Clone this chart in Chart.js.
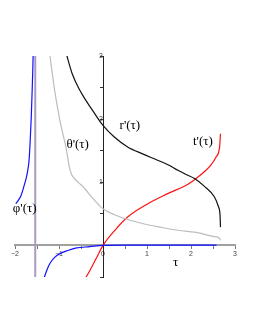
<!DOCTYPE html>
<html>
<head>
<meta charset="utf-8">
<script src="https://cdn.jsdelivr.net/npm/chart.js@4.4.1/dist/chart.umd.min.js"></script>
<style>
  body { margin: 0; background: #fff; }
  #wrap { width: 255px; height: 330px; position: relative; }
</style>
</head>
<body>
<div id="wrap"><canvas id="plot"></canvas></div>
<script>
// phi'(tau), left and right branches
var phiLeftTau = [-1.98, -1.93, -1.87, -1.82, -1.78, -1.74, -1.71, -1.68, -1.655, -1.63, -1.61, -1.595, -1.585];
var phiLeftVal = [0.66, 0.71, 0.78, 0.88, 0.98, 1.08, 1.19, 1.35, 1.65, 2.04, 2.45, 2.8, 3.1];
var phiRightTau = [-1.36, -1.33, -1.27, -1.21, -1.10, -0.98, -0.80, -0.60, -0.30, 0, 0.5, 1.0, 1.5, 2.0, 2.58];
var phiRightVal = [-0.58, -0.5, -0.38, -0.29, -0.19, -0.13, -0.08, -0.04, -0.02, 0, 0.004, 0.004, 0.004, 0.004, 0.004];

// r'(tau)
var rTau = [-0.84, -0.70, -0.53, -0.40, -0.23, 0, 0.25, 0.56, 0.9, 1.24, 1.5, 1.70, 1.9, 2.08, 2.3, 2.53, 2.62, 2.66, 2.67];
var rVal = [3.05, 2.72, 2.46, 2.31, 2.13, 1.90, 1.72, 1.56, 1.45, 1.35, 1.27, 1.19, 1.12, 1.06, 0.94, 0.77, 0.62, 0.48, 0.29];

// theta'(tau)
var thetaTau = [-1.22, -1.10, -0.98, -0.83, -0.78, -0.75, -0.71, -0.65, -0.55, -0.45, -0.38, -0.2, 0, 0.25, 0.56, 0.94, 1.3, 1.70, 2.2, 2.45, 2.55, 2.61, 2.65, 2.67];
var thetaVal = [3.08, 2.46, 1.98, 1.51, 1.30, 1.20, 1.12, 1.06, 0.99, 0.93, 0.87, 0.72, 0.58, 0.49, 0.41, 0.34, 0.29, 0.24, 0.195, 0.15, 0.14, 0.13, 0.11, 0.08];

// t'(tau)
var tTau = [-0.40, -0.30, -0.15, 0, 0.27, 0.56, 1.02, 1.47, 1.93, 2.08, 2.34, 2.45, 2.57, 2.65, 2.67];
var tVal = [-0.52, -0.40, -0.20, 0, 0.24, 0.45, 0.66, 0.82, 0.97, 1.04, 1.19, 1.27, 1.40, 1.56, 1.77];

// asymptote
var asymTau = [-1.54, -1.54];
var asymVal = [-0.5, 3];

function pts(xs, ys) {
    return xs.map(function (x, i) { return {x: x, y: ys[i]}; });
}

function line(data, color, w) {
    return {
        data: data,
        showLine: true,
        borderColor: color,
        borderWidth: w,
        pointRadius: 0,
        cubicInterpolationMode: 'monotone',
        fill: false
    };
}

// curve names written at data positions
var curveLabels = [
    {text: "r'(\u03c4)", x: 0.61, y: 1.90},
    {text: "\u03b8'(\u03c4)", x: -0.575, y: 1.60},
    {text: "\u03c6'(\u03c4)", x: -1.78, y: 0.59},
    {text: "t'(\u03c4)", x: 2.27, y: 1.65},
    {text: "\u03c4", x: 1.65, y: -0.27}
];

var labelPlugin = {
    id: 'curveLabels',
    afterDatasetsDraw: function (chart) {
        var ctx = chart.ctx;
        var sx = chart.scales.x, sy = chart.scales.y;
        ctx.save();
        ctx.fillStyle = '#000';
        ctx.font = '13px "Liberation Serif"';
        ctx.textAlign = 'center';
        ctx.textBaseline = 'middle';
        curveLabels.forEach(function (l) {
            ctx.fillText(l.text, sx.getPixelForValue(l.x), sy.getPixelForValue(l.y));
        });
        ctx.restore();
    }
};

function tickText(v) {
    if (Math.abs(v - Math.round(v)) > 1e-6) return '';
    return v < 0 ? '\u2212' + Math.abs(v) : String(v);
}

new Chart(document.getElementById('plot'), {
    type: 'scatter',
    data: {
        datasets: [
            line(pts(asymTau, asymVal), '#a99ac6', 2),
            line(pts(thetaTau, thetaVal), '#bdbdbd', 1.2),
            line(pts(phiLeftTau, phiLeftVal), '#1010ff', 1.2),
            line(pts(phiRightTau, phiRightVal), '#1010ff', 1.2),
            line(pts(rTau, rVal), '#111111', 1.2),
            line(pts(tTau, tVal), '#ff1010', 1.2)
        ]
    },
    options: {
        maintainAspectRatio: false,
        animation: false,
        layout: {padding: {left: 15, right: 20, top: 56, bottom: 53}},
        plugins: {legend: {display: false}, tooltip: {enabled: false}},
        scales: {
            x: {
                type: 'linear',
                min: -2, max: 3,
                position: {y: 0},
                grid: {display: true, drawOnChartArea: false, drawTicks: true, tickLength: 3, color: '#777'},
                border: {display: true, color: '#a0a0a0', width: 2},
                ticks: {stepSize: 0.5, autoSkip: false, maxRotation: 0, padding: 1, color: '#444',
                        font: {size: 7, family: 'Liberation Sans'}, callback: tickText}
            },
            y: {
                type: 'linear',
                min: -0.5, max: 3,
                position: {x: 0},
                grid: {display: true, drawOnChartArea: false, drawTicks: true, tickLength: 3, color: '#333'},
                border: {display: true, color: '#222', width: 1},
                ticks: {stepSize: 0.5, autoSkip: false, padding: 1, color: '#444',
                        font: {size: 7, family: 'Liberation Sans'},
                        callback: function (v) { return v === 0 ? '' : tickText(v); }}
            }
        }
    },
    plugins: [labelPlugin]
});
</script>
</body>
</html>
